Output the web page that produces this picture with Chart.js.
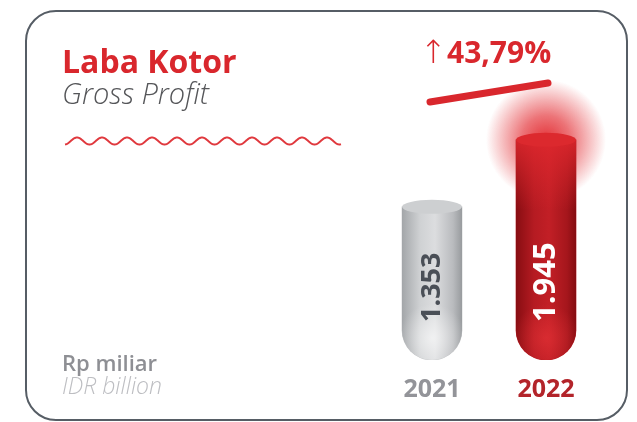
<!DOCTYPE html>
<html>
<head>
<meta charset="utf-8">
<script src="https://cdn.jsdelivr.net/npm/chart.js@4.4.1/dist/chart.umd.min.js"></script>
<style>
  html, body { margin: 0; padding: 0; background: #fff; }
  #wrap { width: 637px; height: 422px; }
</style>
</head>
<body>
<div id="wrap"><canvas id="chart" width="637" height="422"></canvas></div>
<script>
// Laba Kotor / Gross Profit, Rp miliar
const years = ['2021', '2022'];
const grossProfit = [1353, 1945];
const growthLabel = '43,79%';

const barColors = ['#c5c7c9', '#b51b22'];
const yearColors = ['#939499', '#b3242a'];
const valueColors = ['#4a4f57', '#ffffff'];
const FONT = '"Open Sans", sans-serif';
const RED = '#d9272d';

// horizontal shading so each bar reads as a cylinder
const shades = [
  [[0, '#a3a6a9'], [0.3, '#cfd1d3'], [0.55, '#dcdddf'], [0.85, '#b9bbbe'], [1, '#989b9e']],
  [[0, '#880d12'], [0.3, '#b51b22'], [0.55, '#c21f26'], [0.85, '#a5161c'], [1, '#850c11']]
];

const decor = {
  id: 'decor',
  beforeDraw(chart) {
    const ctx = chart.ctx;
    ctx.save();
    // card outline
    ctx.strokeStyle = '#565d65';
    ctx.lineWidth = 2;
    ctx.beginPath();
    ctx.roundRect(26, 11, 601, 409, 30);
    ctx.stroke();

    // titles
    ctx.textAlign = 'left';
    ctx.textBaseline = 'alphabetic';
    ctx.fillStyle = RED;
    ctx.font = `700 32px ${FONT}`;
    ctx.fillText('Laba Kotor', 62, 73);
    ctx.fillStyle = '#555659';
    ctx.font = `italic 300 29px ${FONT}`;
    ctx.fillText('Gross Profit', 62, 104);

    // wavy divider
    ctx.strokeStyle = '#e0393e';
    ctx.lineWidth = 2;
    ctx.beginPath();
    for (let x = 65; x <= 341; x += 0.5) {
      const y = 141 - 3.5 * Math.sin(2 * Math.PI * (x - 65) / 25 - 1.45);
      if (x === 65) ctx.moveTo(x, y); else ctx.lineTo(x, y);
    }
    ctx.stroke();

    // unit
    ctx.fillStyle = '#8e8f94';
    ctx.font = `600 22px ${FONT}`;
    ctx.fillText('Rp miliar', 62, 371);
    ctx.fillStyle = '#bdbec2';
    ctx.font = `italic 300 23px ${FONT}`;
    ctx.fillText('IDR billion', 62, 394);

    // growth badge
    ctx.fillStyle = RED;
    ctx.font = `200 32px "DejaVu Sans", sans-serif`;
    ctx.fillText('\u2191', 420, 63);
    ctx.font = `700 30px ${FONT}`;
    ctx.fillText(growthLabel, 447, 63);
    ctx.strokeStyle = RED;
    ctx.lineWidth = 7;
    ctx.lineCap = 'round';
    ctx.beginPath();
    ctx.moveTo(430, 102);
    ctx.lineTo(548, 83);
    ctx.stroke();
    ctx.restore();
  },
  beforeDatasetsDraw(chart) {
    // glow around the top of the latest bar
    const ctx = chart.ctx;
    const bar = chart.getDatasetMeta(0).data[1];
    ctx.save();
    const g = ctx.createRadialGradient(bar.x, bar.y, 0, bar.x, bar.y, 60);
    g.addColorStop(0, 'rgba(226,40,46,0.95)');
    g.addColorStop(0.4, 'rgba(226,40,46,0.65)');
    g.addColorStop(1, 'rgba(226,40,46,0)');
    ctx.fillStyle = g;
    ctx.beginPath();
    ctx.arc(bar.x, bar.y, 60, 0, Math.PI * 2);
    ctx.fill();
    ctx.restore();
  },
  afterDatasetsDraw(chart) {
    const ctx = chart.ctx;
    const bars = chart.getDatasetMeta(0).data;
    bars.forEach((bar, i) => {
      const half = bar.width / 2;
      const left = bar.x - half;
      ctx.save();
      // clip to the bar body
      ctx.beginPath();
      ctx.roundRect(left, bar.y, bar.width, bar.base - bar.y, [0, 0, half, half]);
      ctx.clip();
      const shade = ctx.createLinearGradient(left, 0, left + bar.width, 0);
      shades[i].forEach(([o, c]) => shade.addColorStop(o, c));
      ctx.fillStyle = shade;
      ctx.fillRect(left, bar.y, bar.width, bar.base - bar.y);
      // soft highlight near the rounded bottom
      const hl = ctx.createRadialGradient(bar.x, bar.base - 22, 0, bar.x, bar.base - 22, 34);
      hl.addColorStop(0, i === 0 ? 'rgba(255,255,255,0.6)' : 'rgba(232,52,56,0.6)');
      hl.addColorStop(1, i === 0 ? 'rgba(255,255,255,0)' : 'rgba(232,52,56,0)');
      ctx.fillStyle = hl;
      ctx.fillRect(left, bar.base - 60, bar.width, 60);
      if (i === 1) {
        const top = ctx.createLinearGradient(0, bar.y, 0, bar.y + 70);
        top.addColorStop(0, 'rgba(224,40,46,0.85)');
        top.addColorStop(1, 'rgba(224,40,46,0)');
        ctx.fillStyle = top;
        ctx.fillRect(left, bar.y, bar.width, 70);
      }
      ctx.restore();

      // cylinder cap
      ctx.save();
      ctx.fillStyle = i === 0 ? '#cdcfd1' : '#dc292e';
      ctx.beginPath();
      ctx.ellipse(bar.x, bar.y, half, 7, 0, 0, Math.PI * 2);
      ctx.fill();
      ctx.restore();

      // value written up the bar
      ctx.save();
      ctx.translate(bar.x, bar.base - 38);
      ctx.rotate(-Math.PI / 2);
      ctx.textAlign = 'left';
      ctx.textBaseline = 'middle';
      ctx.fillStyle = valueColors[i];
      ctx.font = `700 ${i === 0 ? 27 : 31}px ${FONT}`;
      ctx.fillText(grossProfit[i].toLocaleString('id-ID'), 0, 0);
      ctx.restore();
    });
  }
};

new Chart(document.getElementById('chart'), {
  type: 'bar',
  data: {
    labels: years,
    datasets: [{
      data: grossProfit,
      backgroundColor: barColors,
      borderWidth: 0,
      borderSkipped: false,
      borderRadius: { topLeft: 0, topRight: 0, bottomLeft: 30, bottomRight: 30 },
      barThickness: 60
    }]
  },
  options: {
    responsive: false,
    animation: false,
    layout: { padding: { top: 77, left: 375, right: 34, bottom: 10 } },
    plugins: { legend: { display: false }, tooltip: { enabled: false } },
    scales: {
      y: { display: false, min: 0, max: 2500 },
      x: {
        grid: { display: false },
        border: { display: false },
        ticks: {
          padding: 7,
          color: yearColors,
          font: { family: FONT, size: 25, weight: '700' }
        }
      }
    }
  },
  plugins: [decor]
});
</script>
</body>
</html>
